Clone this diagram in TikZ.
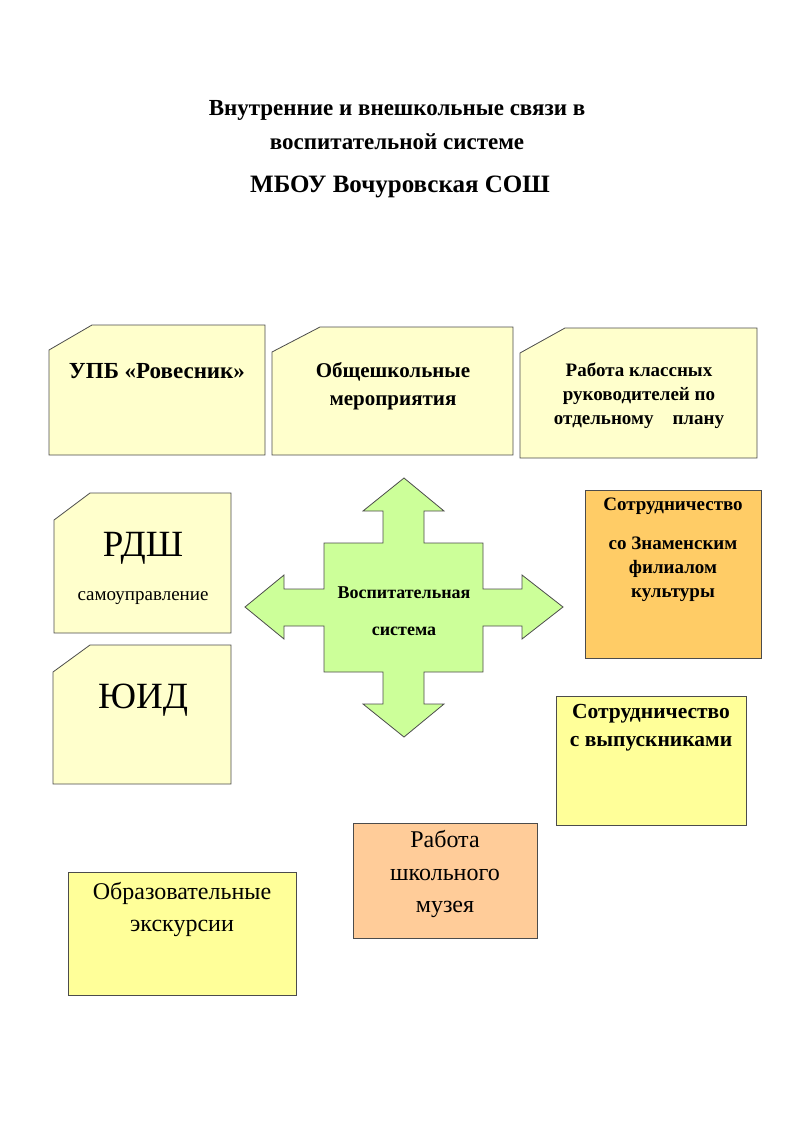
\documentclass[tikz,border=0pt]{standalone}
\usepackage{fontspec}
\setmainfont{Liberation Serif}
\usetikzlibrary{positioning}
\definecolor{paleyellow}{HTML}{FFFFCC}
\definecolor{lightyellow}{HTML}{FFFF99}
\definecolor{orangebox}{HTML}{FFCC66}
\definecolor{peachbox}{HTML}{FFCC99}
\definecolor{crossgreen}{HTML}{CCFF99}
\newcommand{\fs}[2]{\fontsize{#1}{#2}\selectfont}
\begin{document}
\begin{tikzpicture}[x=1pt,y=-1pt,
  box/.style = {draw=black!70, line width=0.8pt},
  lbl/.style = {align=center, inner sep=0pt}]
\useasboundingbox (0,0) rectangle (793,1122);
% title
\node[lbl, font=\bfseries\fs{23}{23}] (t1) at (397,110) {Внутренние и внешкольные связи в};
\node[lbl, font=\bfseries\fs{23}{23}] (t2) at (397,142) {воспитательной системе};
\node[lbl, font=\bfseries\fs{25}{25}] (t3) at (400,187) {МБОУ Вочуровская СОШ};
% top row
\draw[box, fill=paleyellow] (49,455) -- (49,350) -- (92,325) -- (265,325) -- (265,455) -- cycle;
\draw[box, fill=paleyellow] (272,455) -- (272,352) -- (320,327) -- (513,327) -- (513,455) -- cycle;
\draw[box, fill=paleyellow] (520,458) -- (520,353) -- (565,328) -- (757,328) -- (757,458) -- cycle;
\node[lbl, font=\bfseries\fs{23}{23}] (upb) at (157,371) {УПБ «Ровесник»};
\node[lbl, font=\bfseries\fs{21}{28}] (obsh) at (393,386) {Общешкольные\\мероприятия};
\node[lbl, font=\bfseries\fs{19}{24}] (rabota) at (639,396) {Работа классных\\руководителей по\\отдельному\quad плану};
% left column
\draw[box, fill=paleyellow] (54,633) -- (54,520) -- (90,493) -- (231,493) -- (231,633) -- cycle;
\draw[box, fill=paleyellow] (53,784) -- (53,672) -- (90,645) -- (231,645) -- (231,784) -- cycle;
\node[lbl, font=\fs{37}{37}] (rdsh) at (143,548) {РДШ};
\node[lbl, font=\fs{19}{19}] (samo) at (143,598) {самоуправление};
\node[lbl, font=\fs{37}{37}] (yuid) at (143,700) {ЮИД};
% centre cross
\draw[box, fill=crossgreen] (324,543) -- (383,543) -- (383,511) -- (363,511) -- (404,478)
  -- (444,511) -- (424,511) -- (424,543) -- (483,543) -- (483,589) -- (522,589) -- (522,575)
  -- (563,607) -- (522,639) -- (522,626) -- (483,626) -- (483,672) -- (424,672) -- (424,704)
  -- (444,704) -- (404,737) -- (363,704) -- (383,704) -- (383,672) -- (324,672) -- (324,626)
  -- (284,626) -- (284,639) -- (245,607) -- (284,575) -- (284,589) -- (324,589) -- cycle;
\node[lbl, font=\bfseries\fs{18}{18}] (vosp) at (404,593) {Воспитательная};
\node[lbl, font=\bfseries\fs{18}{18}] (sist) at (404,631) {система};
% right column
\draw[box, fill=orangebox] (585,490) rectangle (761,658);
\node[lbl, font=\bfseries\fs{19}{19}] (sotr) at (673,506) {Сотрудничество};
\node[lbl, font=\bfseries\fs{19}{24}] (znam) at (673,569) {со Знаменским\\филиалом\\культуры};
\draw[box, fill=lightyellow] (556,696) rectangle (746,825);
\node[lbl, font=\bfseries\fs{21.5}{28}] (vyp) at (651,728) {Сотрудничество\\с выпускниками};
% bottom
\draw[box, fill=peachbox] (353,823) rectangle (537,938);
\node[lbl, font=\fs{24}{32.5}] (muz) at (445,874) {Работа\\школьного\\музея};
\draw[box, fill=lightyellow] (68,872) rectangle (296,995);
\node[lbl, font=\fs{24}{32}] (ekskurs) at (182,909) {Образовательные\\экскурсии};
\end{tikzpicture}
\end{document}
